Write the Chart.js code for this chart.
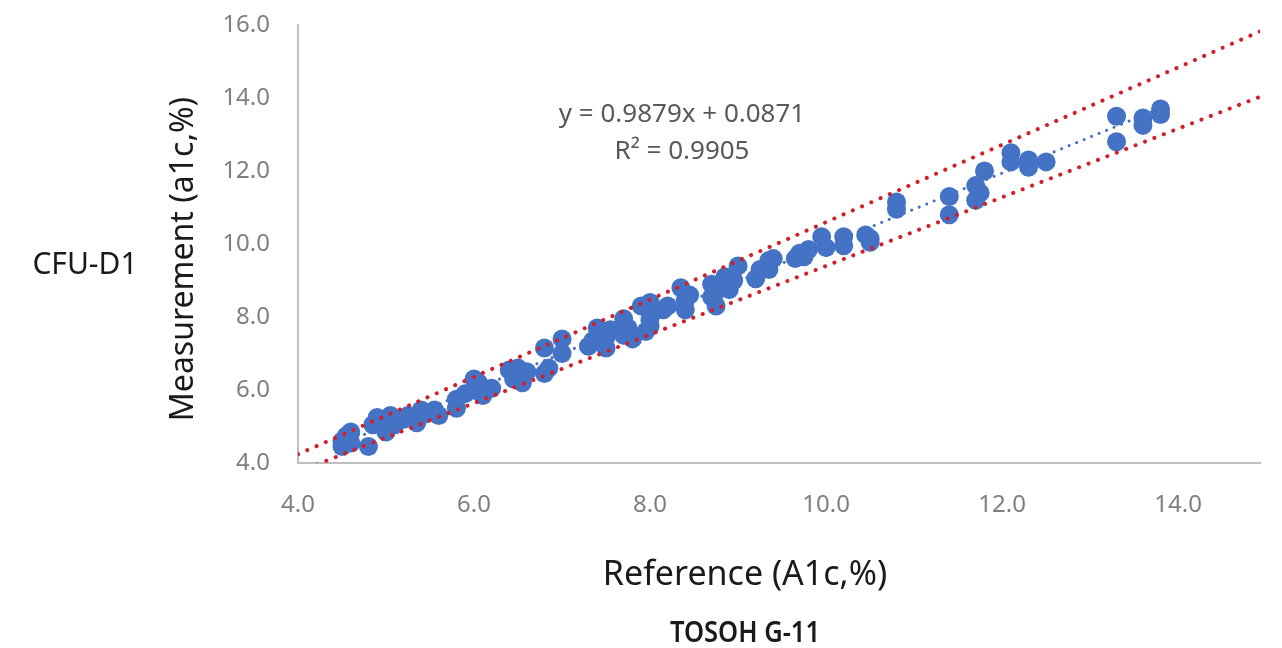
<!DOCTYPE html>
<html>
<head>
<meta charset="utf-8">
<script src="https://cdn.jsdelivr.net/npm/chart.js@4.4.1/dist/chart.umd.min.js"></script>
<style>
  html, body { margin: 0; padding: 0; background: #fff; }
  #wrap { width: 1282px; height: 648px; }
</style>
</head>
<body>
<div id="wrap"><canvas id="scatter"></canvas></div>
<script>
const refX = [
  4.5, 4.5, 4.55, 4.6, 4.6, 4.8, 4.85, 4.9, 4.95, 5.0, 5.05, 5.1, 5.2, 5.25, 5.35,
  5.4, 5.45, 5.55, 5.6, 5.8, 5.8, 5.9, 6.0, 6.0, 6.05, 6.1, 6.2, 6.4, 6.45, 6.5,
  6.55, 6.6, 6.8, 6.8, 6.85, 7.0, 7.0,
  7.3, 7.35, 7.4, 7.5, 7.5, 7.55, 7.7, 7.7, 7.75, 7.8, 7.9, 7.95, 8.0, 8.0, 8.0,
  8.15, 8.2, 8.35, 8.4, 8.4, 8.45, 8.7, 8.7, 8.75, 8.75, 8.85, 8.9, 8.95, 9.0,
  9.2, 9.25, 9.35, 9.35, 9.4, 9.65, 9.7, 9.75, 9.8, 9.95, 10.0, 10.2, 10.2,
  10.45, 10.5, 10.5, 10.8, 10.8, 11.4, 11.4, 11.7, 11.75, 11.7, 11.8,
  12.1, 12.1, 12.3, 12.3, 12.5, 13.3, 13.3, 13.6, 13.6, 13.8, 13.8
];
const measY = [
  4.6, 4.45, 4.75, 4.85, 4.55, 4.45, 5.05, 5.25, 5.1, 4.85, 5.3, 5.05, 5.2, 5.3, 5.1,
  5.45, 5.35, 5.45, 5.3, 5.5, 5.75, 5.9, 6.3, 6.0, 6.2, 5.85, 6.05, 6.55, 6.3, 6.6,
  6.2, 6.5, 7.15, 6.45, 6.6, 7.4, 7.0,
  7.2, 7.35, 7.7, 7.45, 7.15, 7.65, 7.95, 7.5, 7.7, 7.4, 8.3, 7.6, 8.4, 7.95, 7.75,
  8.2, 8.3, 8.8, 8.45, 8.2, 8.6, 8.9, 8.55, 8.3, 8.7, 9.1, 8.75, 9.0, 9.4,
  9.05, 9.3, 9.55, 9.3, 9.6, 9.6, 9.75, 9.65, 9.85, 10.2, 9.9, 10.2, 9.95,
  10.25, 10.05, 10.15, 11.15, 10.95, 11.3, 10.8, 11.6, 11.4, 11.2, 12.0,
  12.5, 12.25, 12.3, 12.1, 12.25, 13.5, 12.8, 13.45, 13.25, 13.7, 13.55
];

// linear fit printed on the chart
const fitSlope = 0.9879;
const fitIntercept = 0.0871;
const fitR2 = 0.9905;
const fitRange = [4.5, 13.8];

// ±6% acceptance limits
const limitUpper = 1.06;
const limitLower = 0.94;
const limitRange = [4.0, 15.0];

const xTicks = [4, 6, 8, 10, 12, 14];

const fontFamily = "'Noto Sans', 'DejaVu Sans', sans-serif";

const points = refX.map((x, i) => ({ x: x, y: measY[i] }));
const fitLine = fitRange.map(x => ({ x: x, y: fitSlope * x + fitIntercept }));
const upperLine = limitRange.map(x => ({ x: x, y: limitUpper * x }));
const lowerLine = limitRange.map(x => ({ x: x, y: limitLower * x }));

const textPlugin = {
  id: 'chartText',
  afterDraw(chart) {
    const ctx = chart.ctx;
    ctx.save();
    ctx.textAlign = 'center';
    ctx.textBaseline = 'middle';

    ctx.fillStyle = '#595959';
    ctx.font = "26px " + fontFamily;
    ctx.fillText('y = ' + fitSlope.toFixed(4) + 'x + ' + fitIntercept.toFixed(4), 682, 115);
    ctx.fillText('R\u00B2 = ' + fitR2.toFixed(4), 682, 152);

    ctx.fillStyle = '#1a1a1a';
    ctx.font = "30px " + fontFamily;
    ctx.fillText('CFU-D1', 85, 265);

    ctx.font = "34px " + fontFamily;
    ctx.fillText('Reference (A1c,%)', 745, 575);

    // device label is set in a taller, narrower face in the source
    ctx.save();
    ctx.translate(745, 634);
    ctx.scale(0.88, 1);
    ctx.font = "600 29px " + fontFamily;
    ctx.fillText('TOSOH G-11', 0, 0);
    ctx.restore();

    ctx.translate(184, 259);
    ctx.rotate(-Math.PI / 2);
    ctx.font = "32px " + fontFamily;
    ctx.fillText('Measurement (a1c,%)', 0, 0);
    ctx.restore();
  }
};

new Chart(document.getElementById('scatter'), {
  type: 'scatter',
  data: {
    datasets: [
      {
        label: 'Upper limit',
        data: upperLine,
        showLine: true,
        borderColor: '#d0202a',
        borderWidth: 4,
        borderDash: [0.1, 10],
        borderCapStyle: 'round',
        pointRadius: 0,
        fill: false
      },
      {
        label: 'Lower limit',
        data: lowerLine,
        showLine: true,
        borderColor: '#d0202a',
        borderWidth: 4,
        borderDash: [0.1, 10],
        borderCapStyle: 'round',
        pointRadius: 0,
        fill: false
      },
      {
        label: 'Samples',
        data: points,
        backgroundColor: '#4472c4',
        borderColor: '#4472c4',
        borderWidth: 0,
        pointRadius: 9.5
      },
      {
        label: 'Linear fit',
        data: fitLine,
        showLine: true,
        borderColor: '#4472c4',
        borderWidth: 3,
        borderDash: [0.1, 8],
        borderCapStyle: 'round',
        pointRadius: 0,
        fill: false
      }
    ]
  },
  options: {
    responsive: true,
    maintainAspectRatio: false,
    animation: false,
    layout: { padding: { left: 0, top: 25, right: 22, bottom: 0 } },
    plugins: {
      legend: { display: false },
      tooltip: { enabled: false }
    },
    scales: {
      x: {
        type: 'linear',
        min: 4,
        max: 14.93,
        afterFit(scale) { scale.height = 185; },
        afterBuildTicks(scale) { scale.ticks = xTicks.map(v => ({ value: v })); },
        grid: { display: false, drawTicks: false },
        border: { display: true, color: '#bfbfbf', width: 2 },
        ticks: {
          padding: 28,
          color: '#7f7f7f',
          font: { family: fontFamily, size: 24 },
          callback: v => v.toFixed(1)
        }
      },
      y: {
        type: 'linear',
        min: 4,
        max: 16,
        afterFit(scale) {
          scale.width = 298;
          // tick padding would otherwise push the plot top down
          scale.paddingTop = 0;
          scale.paddingBottom = 0;
        },
        grid: { display: false, drawTicks: false },
        border: { display: true, color: '#bfbfbf', width: 2 },
        ticks: {
          stepSize: 2,
          padding: 28,
          color: '#7f7f7f',
          font: { family: fontFamily, size: 24 },
          callback: v => v.toFixed(1)
        }
      }
    }
  },
  plugins: [textPlugin]
});
</script>
</body>
</html>
